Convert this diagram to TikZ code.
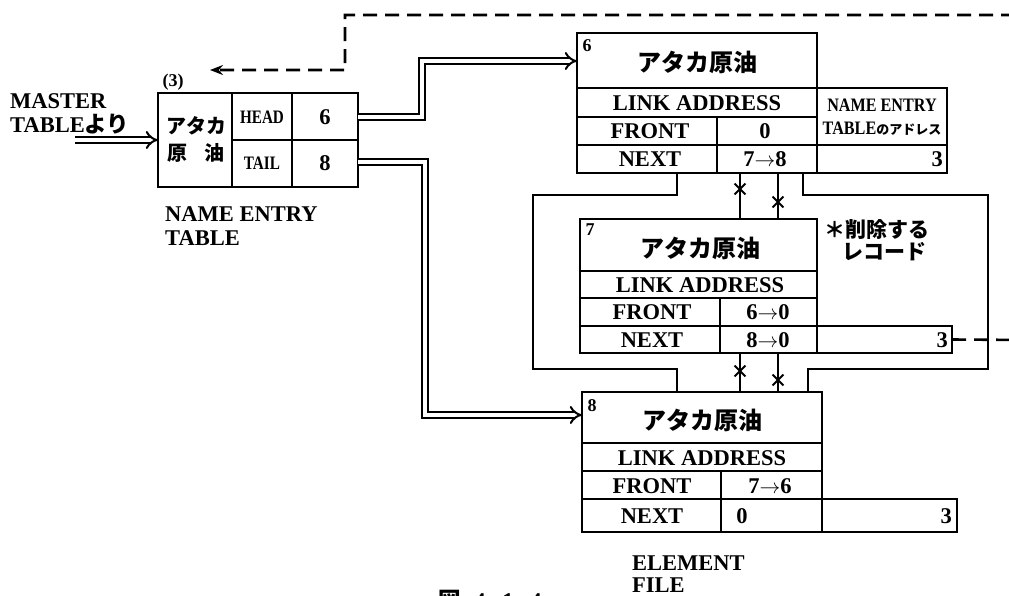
\documentclass[tikz,border=0pt]{standalone}
\usepackage{fontspec}
\setmainfont{Liberation Serif}
\newfontfamily\jp{Noto Sans CJK JP}
\usetikzlibrary{arrows.meta,shapes.misc}
\begin{document}
\begin{tikzpicture}[x=1pt,y=-1pt,
  box/.style={draw, line width=2.6pt, rectangle, inner sep=0pt, outer sep=0pt},
  cell/.style={line width=1.7pt},
  big/.style={font=\bfseries\fontsize{22.5}{24}\selectfont, inner sep=0pt},
  capline/.style={big, text height=15pt, text depth=0pt},
  jbig/.style={font=\jp\bfseries\fontsize{24}{26}\selectfont, inner sep=0pt},
  jmid/.style={font=\jp\bfseries\fontsize{20}{22}\selectfont, inner sep=0pt},
  num/.style={font=\bfseries\fontsize{18}{20}\selectfont, inner sep=0pt},
  small/.style={font=\bfseries\fontsize{19}{20}\selectfont\addfontfeature{FakeStretch=0.8}, inner sep=0pt},
  tiny/.style={font=\bfseries\fontsize{19}{20}\selectfont\addfontfeature{FakeStretch=0.85}, inner sep=0pt},
  link/.style={line width=2.6pt},
  cut/.style={cross out, draw, line width=1.8pt, minimum size=9pt, inner sep=0pt},
  dbl/.style={double, double distance=4pt, line width=2pt, -{Implies}},
  dsh/.style={line width=2.6pt, dash pattern=on 14pt off 8pt, -{Stealth[length=13pt,width=10pt]}},
]
\clip (0,0) rectangle (1009,595);

% ---------- NAME ENTRY TABLE ----------
\node[box, minimum width=200pt, minimum height=94pt] (nt) at (258,140) {};
\draw[cell] (232,93) -- (232,187);
\draw[cell] (292,93) -- (292,187);
\draw[cell] (232,140) -- (358,140);
\node[jmid] (ntA) at (196,126) {アタカ};
\node[jmid] (ntB) at (196,153) {原\hspace{0.9em}油};
\node[small] (ntH) at (262,117) {HEAD};
\node[small] (ntT) at (262,163) {TAIL};
\node[big] (nt6) at (325,117) {6};
\node[big] (nt8) at (325,163) {8};
\node[num] (nt3) at (173,82) {(3)};
\node[big, anchor=west] (ntL1) at (165,214) {NAME ENTRY};
\node[big, anchor=west] (ntL2) at (165,238) {TABLE};

\node[big, anchor=west] (ms1) at (10,101) {MASTER};
\node[big, anchor=west] (ms2) at (10,124) {TABLE{\jp\bfseries より}};
\coordinate (msstart) at (75,140);

% ---------- RECORD 6 ----------
\node[box, minimum width=240pt, minimum height=140pt] (r6) at (697,103) {};
\draw[cell] (577,88) -- (817,88);
\draw[cell] (577,117) -- (817,117);
\draw[cell] (577,145) -- (817,145);
\draw[cell] (717,117) -- (717,173);
\node[box, minimum width=130pt, minimum height=85pt] (r6x) at (882,130.5) {};
\draw[cell] (817,145) -- (947,145);
\node[num] (r6n) at (587,46) {6};
\node[jbig] (r6t) at (697,62) {アタカ原油};
\node[big] (r6l) at (697,103) {LINK ADDRESS};
\node[big] (r6f) at (650,131) {FRONT};
\node[big] (r6fv) at (765,131) {0};
\node[big] (r6nx) at (650,159) {NEXT};
\node[big] (r6nv) at (765,159) {7$\rightarrow$8};
\node[tiny] (r6x1) at (882,105) {NAME ENTRY};
\node[tiny] (r6x2) at (882,129) {TABLE{\jp\bfseries\fontsize{13}{14}\selectfont のアドレス}};
\node[big, anchor=east] (r6x3) at (943,159) {3};

% ---------- RECORD 7 ----------
\node[box, minimum width=237pt, minimum height=134pt] (r7) at (698.5,286) {};
\draw[cell] (580,271) -- (817,271);
\draw[cell] (580,298) -- (817,298);
\draw[cell] (580,326) -- (817,326);
\draw[cell] (720,298) -- (720,353);
\node[box, minimum width=135pt, minimum height=27pt] (r7x) at (884.5,339.5) {};
\node[num] (r7n) at (590,230) {7};
\node[jbig] (r7t) at (700,248) {アタカ原油};
\node[big] (r7l) at (700,285) {LINK ADDRESS};
\node[big] (r7f) at (652,312.5) {FRONT};
\node[big] (r7fv) at (768,312.5) {6$\rightarrow$0};
\node[big] (r7nx) at (652,340) {NEXT};
\node[big] (r7nv) at (768,340) {8$\rightarrow$0};
\node[big, anchor=east] (r7x3) at (948,340) {3};
\node[font=\jp\bfseries\fontsize{21}{23}\selectfont, inner sep=0pt] (del1) at (877,230) {＊削除する};
\node[font=\jp\bfseries\fontsize{21}{23}\selectfont, inner sep=0pt] (del2) at (884,252) {レコード};

% ---------- RECORD 8 ----------
\node[box, minimum width=240pt, minimum height=140pt] (r8) at (702,462) {};
\draw[cell] (582,443) -- (822,443);
\draw[cell] (582,471) -- (822,471);
\draw[cell] (582,499) -- (822,499);
\draw[cell] (721,471) -- (721,532);
\node[box, minimum width=135pt, minimum height=33pt] (r8x) at (889.5,515.5) {};
\node[num] (r8n) at (592,406) {8};
\node[jbig] (r8t) at (702,420) {アタカ原油};
\node[big] (r8l) at (702,458) {LINK ADDRESS};
\node[big] (r8f) at (652,486) {FRONT};
\node[big] (r8fv) at (770,486) {7$\rightarrow$6};
\node[big] (r8nx) at (652,516) {NEXT};
\node[big] (r8nv) at (742,516) {0};
\node[big, anchor=east] (r8x3) at (952,516) {3};
\node[capline, anchor=west] (ef1) at (632,562.5) {ELEMENT};
\node[capline, anchor=west] (ef2) at (632,584.5) {FILE};

\node[big, anchor=north] (cap) at (490,590) {{\jp\bfseries 図}\hspace{0.6em}4.\hspace{0.5em}1.\hspace{0.5em}4};

% ---------- double arrows ----------
\draw[dbl] (msstart) -- (nt.west);
\draw[dbl] (nt.east |- 0,117) -- (422,117) -- (422,61) -- (r6.west |- 0,61);
\draw[dbl] (nt.east |- 0,162) -- (425,162) -- (425,415) -- (r8.west |- 0,415);

% ---------- link lines ----------
\draw[link] (677,0 |- r6.south) -- (677,195) -- (533,195) -- (533,369) -- (677,369) -- (677,0 |- r8.north);
\draw[link] (803,0 |- r6.south) -- (803,195) -- (988,195) -- (988,369) -- (808,369) -- (808,0 |- r8.north);
\draw[link] (740,0 |- r6.south) -- (740,0 |- r7.north);
\draw[link] (778,0 |- r6.south) -- (778,0 |- r7.north);
\draw[link] (740,0 |- r7.south) -- (740,0 |- r8.north);
\draw[link] (778,0 |- r7.south) -- (778,0 |- r8.north);
\node[cut] (c1) at (740,189) {};
\node[cut] (c2) at (778,202) {};
\node[cut] (c3) at (740,371) {};
\node[cut] (c4) at (778,380) {};

% ---------- dashed pointer ----------
\coordinate (dend) at (210,70);
\draw[dsh] (r7x.east) -- (1030,340) -- (1030,15) -- (345,15) -- (345,70) -- (dend);
\end{tikzpicture}
\end{document}
